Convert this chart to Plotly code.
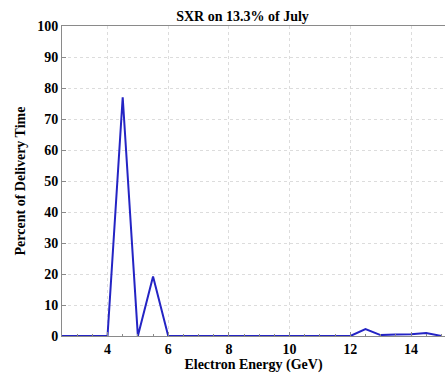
import plotly.graph_objects as go

# Electron energy bins (GeV) and share of delivery time (%)
energy_gev = [2.5, 3.0, 3.5, 4.0, 4.5, 5.0, 5.5, 6.0, 6.5, 7.0, 7.5, 8.0, 8.5, 9.0,
              9.5, 10.0, 10.5, 11.0, 11.5, 12.0, 12.5, 13.0, 13.5, 14.0, 14.5, 15.0]
percent_time = [0, 0, 0, 0, 77, 0, 19.2, 0, 0, 0, 0, 0, 0, 0,
                0, 0, 0, 0, 0, 0, 2.2, 0.3, 0.5, 0.6, 1.0, 0]

x_ticks = [4, 6, 8, 10, 12, 14]
y_ticks = [0, 10, 20, 30, 40, 50, 60, 70, 80, 90, 100]

serif = dict(family="Liberation Serif", size=14, color="black", weight="bold")

fig = go.Figure(
    go.Scatter(
        x=energy_gev,
        y=percent_time,
        mode="lines",
        line=dict(color="#2424c4", width=2),
        hoverinfo="skip",
    )
)

axis_common = dict(
    showline=True,
    linecolor="#8a8a8a",
    linewidth=1,
    mirror=True,
    showgrid=True,
    gridcolor="#dcdcdc",
    griddash="dot",
    gridwidth=1,
    zeroline=False,
    ticks="inside",
    ticklen=4,
    tickcolor="#8a8a8a",
    tickfont=serif,
)

fig.update_xaxes(
    range=[2.5, 15.12],
    tickvals=x_ticks,
    ticktext=[str(v) for v in x_ticks],
    minor=dict(dtick=0.5, ticks="inside", ticklen=2, tickcolor="#8a8a8a", showgrid=False),
    title=dict(text="Electron Energy (GeV)", font=serif, standoff=0),
    **axis_common,
)
fig.update_yaxes(
    range=[0, 100],
    tickvals=y_ticks,
    ticktext=[str(v) for v in y_ticks],
    title=dict(text="Percent of Delivery Time", font=serif, standoff=8),
    **axis_common,
)

fig.update_layout(
    width=445,
    height=373,
    margin=dict(l=62, r=0, t=26, b=37),
    paper_bgcolor="white",
    plot_bgcolor="white",
    showlegend=False,
    title=dict(
        text="SXR on 13.3% of July",
        font=serif,
        x=0.545,
        xanchor="center",
        y=0.958,
        yanchor="middle",
    ),
)

fig.write_html("out.html")
